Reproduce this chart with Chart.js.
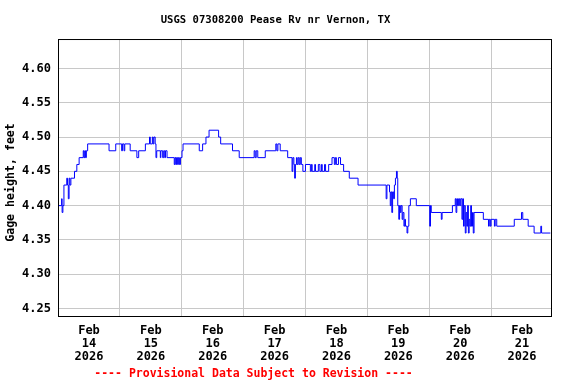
<!DOCTYPE html>
<html>
<head>
<meta charset="utf-8">
<script src="https://cdn.jsdelivr.net/npm/chart.js@4.4.1/dist/chart.umd.min.js"></script>
<style>
html,body{margin:0;padding:0;background:#fff;}
#wrap{width:576px;height:384px;}
</style>
</head>
<body>
<div id="wrap"><canvas id="c" width="576" height="384"></canvas></div>
<script>
// ---- text ----
const chartTitle = 'USGS 07308200 Pease Rv nr Vernon, TX';
const yAxisTitle = 'Gage height, feet';
const footerText = '---- Provisional Data Subject to Revision ----';

// ---- x ticks (hours since Feb 14 2026 00:00) ----
const dayTickHours = [0, 24, 48, 72, 96, 120, 144, 168];
const dayMonth = 'Feb';
const dayNumbers = ['14', '15', '16', '17', '18', '19', '20', '21'];
const dayYear = '2026';
const xMinHours = 0;
const xMaxHours = 191.25;

// ---- y ticks ----
const yTickValues = [4.25, 4.30, 4.35, 4.40, 4.45, 4.50, 4.55, 4.60];
const yMin = 4.239;
const yMax = 4.643;

// ---- series: gage height change points (hours since Feb 14 00:00, feet) ----
const hours = [
  0, 1.4, 1.6, 1.9, 2.3, 3.4, 3.7, 4.0, 4.3, 4.6,
  5.0, 6.4, 7.3, 8.2, 9.8, 10.1, 10.4, 10.7, 11.0, 11.5,
  19.8, 22.4, 24.7, 25.0, 25.6, 25.9, 28.0, 30.6, 31.3, 33.9,
  35.5, 35.8, 36.6, 36.9, 37.2, 37.7, 38.0, 38.3, 39.7, 39.9,
  40.6, 41.0, 41.4, 41.7, 42.3, 45.1, 45.4, 45.7, 46.0, 46.4,
  46.7, 47.1, 47.5, 48.1, 48.5, 54.8, 56.1, 57.4, 58.6, 62.3,
  63.1, 67.7, 70.3, 76.1, 76.5, 76.9, 77.5, 80.4, 84.5, 84.9,
  85.3, 86.2, 89.1, 90.8, 91.1, 91.5, 91.8, 92.1, 92.5, 92.8,
  93.2, 93.6, 94.0, 94.4, 95.0, 96.0, 97.9, 98.3, 98.6, 99.6,
  99.9, 101.0, 101.6, 102.2, 102.5, 103.4, 103.8, 105.0, 106.3, 107.2,
  107.6, 108.0, 108.8, 109.6, 110.8, 113.0,
  116.4, 127.3, 127.6, 128.6, 128.9, 129.2, 129.5, 129.8, 130.2, 130.5,
  130.9, 131.3, 131.6, 131.8, 132.2, 132.5, 132.8, 133.1, 133.5, 133.8,
  134.2, 134.5, 134.8, 135.4, 135.7, 136.1, 136.7, 139.0, 144.2, 144.5,
  144.8, 148.7, 149.0, 153.0, 154.1, 154.4, 154.7, 155.0, 155.4, 155.8,
  156.2, 156.7, 157.0, 157.3, 157.6, 158.0, 158.3, 158.6, 158.9, 159.2,
  159.5, 159.8, 160.1, 160.4, 160.8, 161.1, 161.4, 165.0, 167.0, 167.3,
  167.7, 168.0, 169.3, 169.6, 170.2, 177.0, 179.8, 180.3, 182.4, 184.7,
  187.3, 187.6, 191.0
];
const gage = [
  4.40, 4.41, 4.39, 4.40, 4.43, 4.44, 4.43, 4.41, 4.44, 4.43,
  4.44, 4.45, 4.46, 4.47, 4.48, 4.47, 4.48, 4.47, 4.48, 4.49,
  4.48, 4.49, 4.48, 4.49, 4.48, 4.49, 4.48, 4.47, 4.48, 4.49,
  4.50, 4.49, 4.50, 4.49, 4.50, 4.49, 4.47, 4.48, 4.47, 4.48,
  4.47, 4.48, 4.47, 4.48, 4.47, 4.46, 4.47, 4.46, 4.47, 4.46,
  4.47, 4.46, 4.47, 4.48, 4.49, 4.48, 4.49, 4.50, 4.51, 4.50,
  4.49, 4.48, 4.47, 4.48, 4.47, 4.48, 4.47, 4.48, 4.49, 4.48,
  4.49, 4.48, 4.47, 4.45, 4.47, 4.46, 4.44, 4.46, 4.47, 4.46,
  4.47, 4.46, 4.47, 4.46, 4.45, 4.46, 4.45, 4.46, 4.45, 4.46,
  4.45, 4.46, 4.45, 4.46, 4.45, 4.46, 4.45, 4.46, 4.47, 4.46,
  4.47, 4.46, 4.47, 4.46, 4.45, 4.44,
  4.43, 4.41, 4.43, 4.42, 4.40, 4.42, 4.39, 4.42, 4.41, 4.43,
  4.44, 4.45, 4.44, 4.40, 4.38, 4.40, 4.39, 4.40, 4.38, 4.39,
  4.37, 4.38, 4.37, 4.36, 4.37, 4.40, 4.41, 4.40, 4.37, 4.40,
  4.39, 4.38, 4.39, 4.40, 4.41, 4.39, 4.41, 4.40, 4.41, 4.40,
  4.41, 4.38, 4.41, 4.37, 4.40, 4.36, 4.39, 4.37, 4.40, 4.36,
  4.38, 4.37, 4.40, 4.37, 4.39, 4.36, 4.39, 4.38, 4.37, 4.38,
  4.37, 4.38, 4.37, 4.38, 4.37, 4.38, 4.39, 4.38, 4.37, 4.36,
  4.37, 4.36, 4.36
];

const points = hours.map((h, i) => ({ x: h, y: gage[i] }));

const MONO = "'DejaVu Sans Mono', 'Liberation Mono', monospace";

const framePlugin = {
  id: 'frame',
  afterDraw(chart) {
    const { ctx, chartArea: a } = chart;
    ctx.save();
    ctx.strokeStyle = '#000000';
    ctx.lineWidth = 1;
    ctx.strokeRect(a.left + 0.5, a.top + 0.5, a.right - a.left, a.bottom - a.top);
    // y-axis title
    ctx.fillStyle = '#000000';
    ctx.font = 'bold 11.6px ' + MONO;
    ctx.textAlign = 'center';
    ctx.textBaseline = 'middle';
    ctx.translate(11, 182.5);
    ctx.rotate(-Math.PI / 2);
    ctx.fillText(yAxisTitle, 0, 0);
    ctx.restore();
    // footer
    ctx.save();
    ctx.fillStyle = '#ff0000';
    ctx.font = 'bold 11.5px ' + MONO;
    ctx.textAlign = 'center';
    ctx.textBaseline = 'middle';
    ctx.fillText(footerText, 253.5, 374.5);
    ctx.restore();
  }
};

new Chart(document.getElementById('c'), {
  type: 'line',
  data: {
    datasets: [{
      data: points,
      borderColor: '#0000ff',
      borderWidth: 1,
      pointRadius: 0,
      stepped: true,
      tension: 0,
      fill: false
    }]
  },
  plugins: [framePlugin],
  options: {
    responsive: false,
    animation: false,
    devicePixelRatio: 1,
    layout: { padding: { left: 0, right: 25, top: 0, bottom: 20 } },
    plugins: {
      legend: { display: false },
      tooltip: { enabled: false },
      title: {
        display: true,
        text: chartTitle,
        color: '#000000',
        font: { family: MONO, size: 10.6, weight: 'bold', lineHeight: 1.2 },
        padding: { top: 13.6, bottom: 12.7 }
      }
    },
    scales: {
      x: {
        type: 'linear',
        min: xMinHours,
        max: xMaxHours,
        afterBuildTicks(scale) {
          scale.ticks = dayTickHours.map(v => ({ value: v }));
        },
        afterFit(scale) { scale.height = 48; },
        grid: { color: '#c8c8c8', lineWidth: 1, drawTicks: false },
        border: { display: false },
        ticks: {
          color: '#000000',
          font: { family: MONO, size: 12, weight: 'bold', lineHeight: 1.08 },
          padding: 8,
          maxRotation: 0,
          autoSkip: false,
          labelOffset: 31,
          callback(value) {
            const i = dayTickHours.indexOf(value);
            return i < 0 ? '' : [dayMonth, dayNumbers[i], dayYear];
          }
        }
      },
      y: {
        type: 'linear',
        min: yMin,
        max: yMax,
        afterBuildTicks(scale) {
          scale.ticks = yTickValues.map(v => ({ value: v }));
        },
        afterFit(scale) { scale.width = 58; },
        grid: { color: '#c8c8c8', lineWidth: 1, drawTicks: false },
        border: { display: false },
        ticks: {
          color: '#000000',
          font: { family: MONO, size: 12, weight: 'bold' },
          padding: 7,
          callback(value) { return Number(value).toFixed(2); }
        }
      }
    }
  }
});
</script>
</body>
</html>
